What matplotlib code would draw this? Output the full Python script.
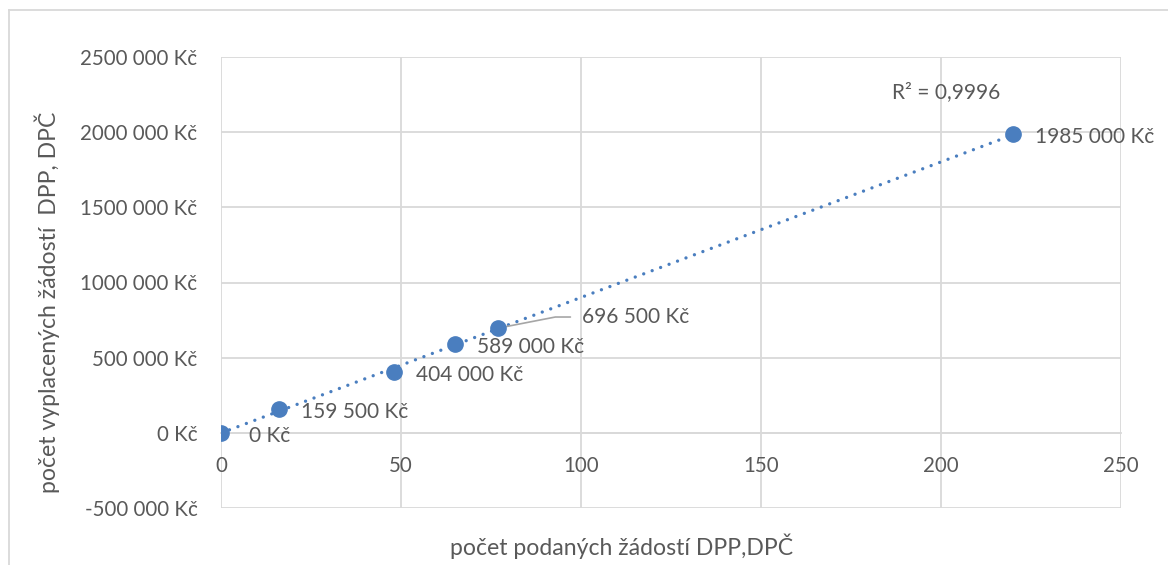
import matplotlib
matplotlib.use('Agg')
import matplotlib.pyplot as plt
import numpy as np
from matplotlib.lines import Line2D

plt.rcParams['font.family'] = ['Lato', 'DejaVu Sans']

# data
zadosti = [0, 16, 48, 65, 77, 220]
castky = [0, 159500, 404000, 589000, 696500, 1985000]
popisky = ['0 Kč', '159 500 Kč', '404 000 Kč', '589 000 Kč', '696 500 Kč', '1985 000 Kč']

x_ticks = [0, 50, 100, 150, 200, 250]
y_ticks = [-500000, 0, 500000, 1000000, 1500000, 2000000, 2500000]
y_tick_labels = ['-500 000 Kč', '0 Kč', '500 000 Kč', '1000 000 Kč',
                 '1500 000 Kč', '2000 000 Kč', '2500 000 Kč']
r2_text = 'R² = 0,9996'

blue = '#4A7EBF'
grey_txt = '#595959'
grid_c = '#D9D9D9'

W, H = 1168, 565
fig = plt.figure(figsize=(W / 100, H / 100), dpi=100)
ax = fig.add_axes([221 / W, 1 - 508 / H, (1121 - 221) / W, (508 - 57) / H])

# linear trend line
k, q = np.polyfit(zadosti, castky, 1)
xt = np.array([0, max(zadosti)])
ax.plot(xt, k * xt + q, color=blue, lw=2.4, linestyle=(0, (0.01, 2.7)),
        dash_capstyle='round', zorder=3)

ax.plot(zadosti, castky, 'o', color=blue, markersize=11, zorder=4)

ax.set_xlim(0, 250)
ax.set_ylim(-500000, 2500000)
ax.set_xticks(x_ticks)
ax.set_yticks(y_ticks)
ax.set_yticklabels(y_tick_labels)
ax.grid(True, color=grid_c, lw=1.3, zorder=0)
ax.set_axisbelow(True)
for s in ['top', 'right', 'left']:
    ax.spines[s].set_visible(False)
ax.spines['bottom'].set_position(('data', 0))
ax.spines['bottom'].set_color(grid_c)
ax.spines['bottom'].set_linewidth(1.3)
ax.tick_params(length=0, labelsize=14.8, labelcolor=grey_txt)
ax.tick_params(axis='x', pad=17)
ax.tick_params(axis='y', pad=17)

# data labels
for i, (xv, yv, txt) in enumerate(zip(zadosti, castky, popisky)):
    if i == 4:
        ax.annotate(txt, (xv, yv), xytext=(60, 8), textcoords='offset points',
                    va='center', ha='left', fontsize=15, color=grey_txt,
                    arrowprops=dict(arrowstyle='-', color='#A6A6A6', lw=1.2,
                                    relpos=(0, 0.5), shrinkA=6, shrinkB=1,
                                    connectionstyle='angle,angleA=0,angleB=11,rad=0'))
    else:
        dx = 20 if i == 0 else 16
        ax.annotate(txt, (xv, yv), xytext=(dx, -2), textcoords='offset points',
                    va='center', ha='left', fontsize=15, color=grey_txt)

fig.text(946 / W, 1 - 92 / H, r2_text, ha='center', va='center',
         fontsize=15, color=grey_txt)

fig.text(622 / W, 1 - 546 / H, 'počet podaných žádostí DPP,DPČ',
         ha='center', va='center', fontsize=16.6, color=grey_txt)
fig.text(47 / W, 1 - 302 / H, 'počet vyplacených žádostí  DPP, DPČ',
         ha='center', va='center', rotation=90, fontsize=16.6, color=grey_txt)

# chart frame (left and top edges visible)
fig.add_artist(Line2D([9 / W, 9 / W], [0, 1 - 10 / H], transform=fig.transFigure,
                      color=grid_c, lw=1.3))
fig.add_artist(Line2D([9 / W, 1], [1 - 10 / H, 1 - 10 / H], transform=fig.transFigure,
                      color=grid_c, lw=1.3))

fig.savefig('out.png', dpi=100)
